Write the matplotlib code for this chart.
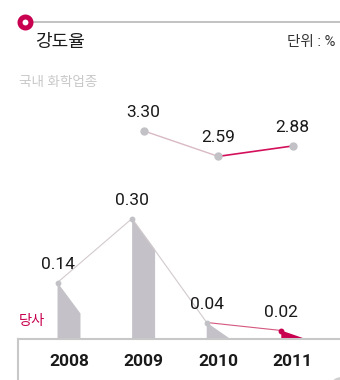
import matplotlib
matplotlib.use("Agg")
import matplotlib.pyplot as plt
from matplotlib.lines import Line2D

plt.rcParams['font.family'] = ['Roboto', 'Noto Sans CJK KR', 'DejaVu Sans']

# 강도율 (%)
years = ["2008", "2009", "2010", "2011"]
company = [0.14, 0.30, 0.04, 0.02]          # 당사
industry_years = [1, 2, 3]                  # 2009-2011 indices
industry = [3.30, 2.59, 2.88]               # 국내 화학업종

MAGENTA = "#c8004f"
GRAY_BAR = "#c4c2c8"
GRAY_DOT = "#c2c2c6"

W, H = 340, 380
fig = plt.figure(figsize=(W / 100, H / 100), dpi=100)


def fx(px):
    return px / W


def fy(py):
    return 1 - py / H


# category index -> pixel: index 0 at x=69, step 74.6px
x_left = -69 / 74.6
x_right = (W - 69) / 74.6
half = 11.5 / 74.6          # half bar width
slope = 31 / 400            # drop of the slanted bar top (data units)

base_px = 338.5
ax = fig.add_axes([0, (H - base_px) / H, 1, base_px / H])
ax.set_xlim(x_left, x_right)
ax.set_ylim(0, base_px / 400)
ax.patch.set_visible(False)
for s in ["top", "left", "right"]:
    ax.spines[s].set_visible(False)
ax.spines["bottom"].set_color("#c8c8c8")
ax.spines["bottom"].set_linewidth(1.5)
x18 = (18 - 69) / 74.6
ax.spines["bottom"].set_bounds(x18, x_right)
ax.plot([x18, x18], [0, -(H - base_px) / 400], color="#c8c8c8", lw=1.5,
        clip_on=False)
ax.set_yticks([])
ax.set_xticks(range(len(years)))
ax.set_xticklabels(years, fontsize=12.5, fontweight="bold", color="#1a1a1a")
ax.tick_params(axis="x", length=0, pad=11)

# slanted bars
for i, v in enumerate(company):
    l, r = i - half, i + half
    color = MAGENTA if i == len(company) - 1 else GRAY_BAR
    ax.fill([l, l, r, r], [0, v, max(v - slope, 0), 0], color=color, lw=0,
            zorder=2)

cx = [i - half for i in range(len(company))]
ax.plot(cx[:3], company[:3], color="#d2cacd", lw=0.8, zorder=3)
ax.plot(cx[2:], company[2:], color="#d4577f", lw=0.8, zorder=3)
ax.plot(cx[:3], company[:3], "o", color=GRAY_DOT, ms=3.2, zorder=4)
ax.plot(cx[3:], company[3:], "o", color=MAGENTA, ms=3.2, zorder=4)
for x, v in zip(cx, company):
    ax.annotate(f"{v:.2f}", (x, v), xytext=(0, 10), textcoords="offset points",
                ha="center", va="baseline", fontsize=12.5, color="#1a1a1a")

# industry series on its own scale
ax2 = fig.add_axes([0, 0, 1, 1])
ax2.set_xlim(x_left, x_right)
ax2.set_ylim(2.923 - 235.6 / 36, 2.923 + 144.4 / 36)
ax2.axis("off")
ax2.plot(industry_years[:2], industry[:2], color="#d8b9c5", lw=1.0, zorder=3)
ax2.plot(industry_years[1:], industry[1:], color="#d4105c", lw=1.2, zorder=3)
ax2.plot(industry_years, industry, "o", color=GRAY_DOT, ms=5, zorder=4)
for x, v in zip(industry_years, industry):
    ax2.annotate(f"{v:.2f}", (x, v), xytext=(0, 10), textcoords="offset points",
                 ha="center", va="baseline", fontsize=12.5, color="#1a1a1a")

# header
fig.add_artist(Line2D([fx(28), 1], [fy(22), fy(22)], color="#bdbdbd", lw=1.3,
                      transform=fig.transFigure))
fig.add_artist(Line2D([fx(25)], [fy(21.7)], marker="o", ms=7.9, mew=3.6,
                      mfc="white", mec=MAGENTA, transform=fig.transFigure))
fig.text(fx(35), fy(42), "강도율", fontsize=13, fontweight="medium",
         color="#1a1a1a", va="center", ha="left")
fig.text(fx(335), fy(42), "단위 : %", fontsize=10.5, color="#333333",
         va="center", ha="right")
fig.text(fx(19), fy(82), "국내 화학업종", fontsize=9.8, fontweight="medium",
         color="#c8c8c8", va="center", ha="left")
fig.text(fx(19), fy(321), "당사", fontsize=10.3, color=MAGENTA,
         va="center", ha="left")

# corner ornament
fig.add_artist(Line2D([fx(341)], [fy(389)], marker="o", ms=18, mew=0,
                      mfc="#cfcfcf", transform=fig.transFigure))

fig.savefig("out.png", dpi=100)
